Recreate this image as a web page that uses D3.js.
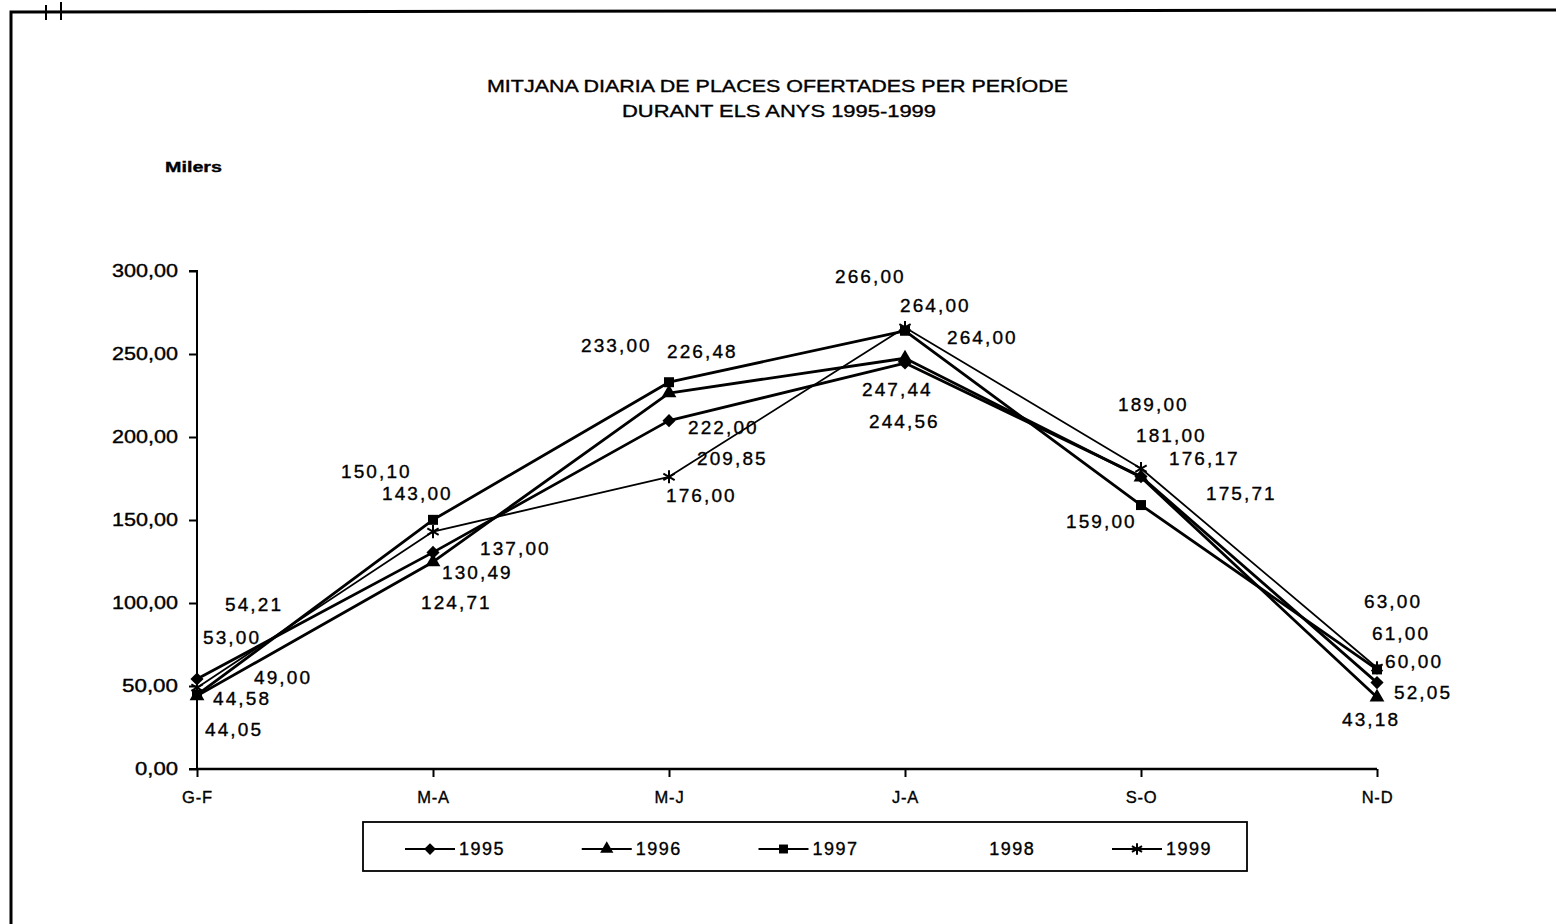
<!DOCTYPE html>
<html>
<head>
<meta charset="utf-8">
<script src="https://cdnjs.cloudflare.com/ajax/libs/d3/7.8.5/d3.min.js"></script>
<style>
  html, body { margin: 0; padding: 0; background: #fff; }
  svg { display: block; }
  text { font-family: Arial, "Liberation Sans", sans-serif; fill: #000; stroke: #000; stroke-width: 0.35px; }
</style>
</head>
<body>
<svg id="chart" width="1556" height="924"></svg>
<script>
// ---- data ----
const categories = ["G-F", "M-A", "M-J", "J-A", "S-O", "N-D"];
const seriesNames = ["1995", "1996", "1997", "1998", "1999"];
const values1995 = [54.21, 130.49, 209.85, 244.56, 176.17, 52.05];
const values1996 = [44.05, 124.71, 226.48, 247.44, 175.71, 43.18];
const values1997 = [44.58, 150.10, 233.00, 264.00, 159.00, 60.00];
const values1998 = [53.00, 137.00, 222.00, 264.00, 189.00, 63.00];
const values1999 = [49.00, 143.00, 176.00, 266.00, 181.00, 61.00];
const yTicks = [0, 50, 100, 150, 200, 250, 300];
const titleLines = ["MITJANA DIARIA DE PLACES OFERTADES PER PERÍODE", "DURANT ELS ANYS 1995-1999"];
const unitLabel = "Milers";

// ---- styles / layout (kept separate from data) ----
const seriesStyle = {
  "1995": { marker: "diamond", width: 2.8, line: true },
  "1996": { marker: "triangle", width: 2.8, line: true },
  "1997": { marker: "square", width: 2.8, line: true },
  "1998": { marker: "none", width: 0, line: false },
  "1999": { marker: "asterisk", width: 1.8, line: true }
};
// label offsets [dx, dy] in px relative to each point, per series per category
const labelOffsets = {
  "1995": [[28, -75], [9, 20], [28, 38], [-36, 58], [28, -18], [17, 10]],
  "1996": [[8, 33], [-12, 40], [-2, -42], [-43, 31], [65, 16], [-35, 22]],
  "1997": [[16, 3], [-92, -49], [-88, -37], [-5, -26], [-75, 16], [8, -8]],
  "1998": [[6, -44], [47, 7], [19, 27], [42, 6], [-23, -51], [-13, -63]],
  "1999": [[57, -11], [-51, -38], [-3, 18], [-70, -51], [-5, -33], [-5, -35]]
};

const seriesValues = {
  "1995": values1995, "1996": values1996, "1997": values1997,
  "1998": values1998, "1999": values1999
};

const svg = d3.select("#chart");
const fmt = v => d3.format(".2f")(v).replace(".", ",");

// frame
svg.append("path")
  .attr("d", "M11,924 L11,12 L1556,10")
  .attr("fill", "none").attr("stroke", "#000").attr("stroke-width", 3);
svg.append("line").attr("x1", 46).attr("x2", 46).attr("y1", 5).attr("y2", 20).attr("stroke", "#000").attr("stroke-width", 2);
svg.append("line").attr("x1", 61).attr("x2", 61).attr("y1", 2).attr("y2", 20).attr("stroke", "#000").attr("stroke-width", 2);

// title
svg.append("text").attr("x", 487).attr("y", 92)
  .attr("font-size", 16.5).attr("textLength", 581).attr("lengthAdjust", "spacingAndGlyphs").text(titleLines[0]);
svg.append("text").attr("x", 622).attr("y", 117)
  .attr("font-size", 16.5).attr("textLength", 314).attr("lengthAdjust", "spacingAndGlyphs").text(titleLines[1]);
svg.append("text").attr("x", 165).attr("y", 172).attr("font-size", 15)
  .attr("font-weight", "bold").attr("textLength", 57).attr("lengthAdjust", "spacingAndGlyphs").text(unitLabel);

// scales
const x = d3.scalePoint().domain(categories).range([197, 1377]);
const y = d3.scaleLinear().domain([0, 300]).range([769, 271]);

// y axis
const yAxis = d3.axisLeft(y).tickValues(yTicks).tickFormat(fmt).tickSize(8).tickPadding(11);
const gy = svg.append("g").attr("transform", "translate(197,0)").call(yAxis);
gy.select(".domain").attr("stroke-width", 2).attr("d", "M-8,271H0V769H-8");
gy.selectAll(".tick line").attr("stroke-width", 2);
gy.selectAll(".tick text").attr("font-size", 17.5).attr("font-family", "Arial, 'Liberation Sans', sans-serif")
  .attr("textLength", d => d >= 100 ? 66 : (d >= 10 ? 56 : 43)).attr("lengthAdjust", "spacingAndGlyphs");

// x axis
const xAxis = d3.axisBottom(x).tickSize(8).tickPadding(14);
const gx = svg.append("g").attr("transform", "translate(0,769)").call(xAxis);
gx.select(".domain").attr("stroke-width", 2.5).attr("d", "M197,0H1377");
gx.selectAll(".tick line").attr("stroke-width", 2);
gx.selectAll(".tick text").attr("font-size", 16.5).attr("font-family", "Arial, 'Liberation Sans', sans-serif")
  .attr("letter-spacing", 0.8);

// marker generators
function drawMarker(g, type, cx, cy, scale = 1) {
  if (type === "diamond") {
    g.append("path").attr("d", d3.symbol().type(d3.symbolDiamond2).size(110 * scale)())
      .attr("transform", `translate(${cx},${cy})`).attr("fill", "#000");
  } else if (type === "triangle") {
    g.append("path").attr("d", d3.symbol().type(d3.symbolTriangle).size(95 * scale)())
      .attr("transform", `translate(${cx},${cy})`).attr("fill", "#000");
  } else if (type === "square") {
    g.append("path").attr("d", d3.symbol().type(d3.symbolSquare).size(100 * scale)())
      .attr("transform", `translate(${cx},${cy})`).attr("fill", "#000");
  } else if (type === "asterisk") {
    g.append("path").attr("d", d3.symbol().type(d3.symbolAsterisk).size(120 * scale)())
      .attr("transform", `translate(${cx},${cy})`).attr("fill", "none")
      .attr("stroke", "#000").attr("stroke-width", 2);
  }
}

const line = d3.line().x((d, i) => x(categories[i])).y(d => y(d));

const plot = svg.append("g");
seriesNames.forEach(name => {
  const st = seriesStyle[name];
  const vals = seriesValues[name];
  if (st.line) {
    plot.append("path").datum(vals).attr("d", line)
      .attr("fill", "none").attr("stroke", "#000").attr("stroke-width", st.width)
      .attr("stroke-linejoin", "round");
  }
});
seriesNames.forEach(name => {
  const st = seriesStyle[name];
  seriesValues[name].forEach((v, i) => drawMarker(plot, st.marker, x(categories[i]), y(v)));
});

// data labels
const labels = svg.append("g");
seriesNames.forEach(name => {
  seriesValues[name].forEach((v, i) => {
    const off = labelOffsets[name][i];
    labels.append("text")
      .attr("x", x(categories[i]) + off[0])
      .attr("y", y(v) + off[1])
      .attr("dy", "0.36em")
      .attr("font-size", 19)
      .attr("letter-spacing", 2.1)
      .text(fmt(v));
  });
});

// legend
const legend = svg.append("g");
legend.append("rect").attr("x", 363).attr("y", 822).attr("width", 884).attr("height", 49)
  .attr("fill", "none").attr("stroke", "#000").attr("stroke-width", 1.8);
const legendX = d3.scalePoint().domain(seriesNames).range([405, 1112]);
seriesNames.forEach(name => {
  const st = seriesStyle[name];
  const lx = legendX(name);
  const ly = 849;
  if (st.line) {
    legend.append("line").attr("x1", lx).attr("x2", lx + 50).attr("y1", ly).attr("y2", ly)
      .attr("stroke", "#000").attr("stroke-width", 2.2);
    drawMarker(legend, st.marker, lx + 25, ly, 0.8);
  }
  legend.append("text").attr("x", lx + 54).attr("y", ly).attr("dy", "0.36em")
    .attr("font-size", 18).attr("letter-spacing", 1.5).text(name);
});
</script>
</body>
</html>
